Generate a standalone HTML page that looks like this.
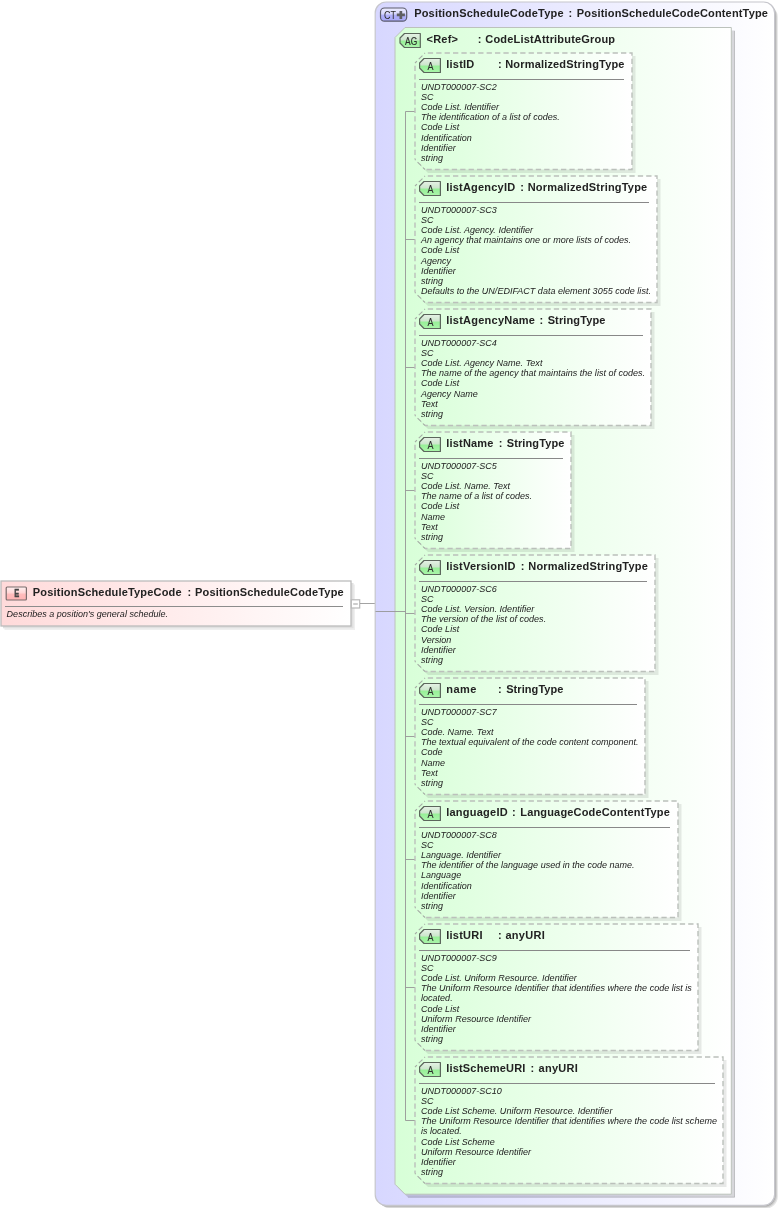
<!DOCTYPE html>
<html><head><meta charset="utf-8"><title>PositionScheduleTypeCode</title>
<style>html,body{margin:0;padding:0;background:#fff}body{width:779px;height:1208px;overflow:hidden}svg{display:block}text{font-family:"Liberation Sans", sans-serif;fill:#222}.b{font-weight:bold;font-size:11px}.i{font-style:italic;font-size:9px;letter-spacing:0.018px}.g{font-size:10px}</style></head><body>
<svg width="779" height="1208" viewBox="0 0 779 1208">
<defs>
<filter id="soft" x="0" y="0" width="100%" height="100%" filterUnits="userSpaceOnUse"><feGaussianBlur stdDeviation="0.35"/></filter>
<linearGradient id="gct" x1="0" y1="0" x2="1" y2="0"><stop offset="0" stop-color="#d7d7ff"/><stop offset="1" stop-color="#ffffff"/></linearGradient>
<linearGradient id="gag" x1="0" y1="0" x2="1" y2="0"><stop offset="0" stop-color="#d7ffd7"/><stop offset="1" stop-color="#ffffff"/></linearGradient>
<linearGradient id="gat" x1="0" y1="0" x2="1" y2="0"><stop offset="0" stop-color="#d9ffd9"/><stop offset="1" stop-color="#ffffff"/></linearGradient>
<linearGradient id="gel" x1="0" y1="0" x2="1" y2="0"><stop offset="0" stop-color="#ffdada"/><stop offset="1" stop-color="#ffffff"/></linearGradient>
<linearGradient id="gba" x1="0" y1="0" x2="0" y2="1"><stop offset="0" stop-color="#e6f2e6"/><stop offset="0.45" stop-color="#cde6cd"/><stop offset="0.55" stop-color="#98f098"/><stop offset="1" stop-color="#aaf5aa"/></linearGradient>
<linearGradient id="gbc" x1="0" y1="0" x2="0" y2="1"><stop offset="0" stop-color="#ececff"/><stop offset="0.45" stop-color="#d6d6fc"/><stop offset="0.55" stop-color="#b0b0fa"/><stop offset="1" stop-color="#a8a8f8"/></linearGradient>
<linearGradient id="gbe" x1="0" y1="0" x2="0" y2="1"><stop offset="0" stop-color="#fff0f0"/><stop offset="0.45" stop-color="#ffd6d6"/><stop offset="0.55" stop-color="#ffbcbc"/><stop offset="1" stop-color="#ffb4b4"/></linearGradient>
</defs>
<rect x="4.5" y="584.5" width="350.5" height="45.5" fill="#efefef"/>
<rect x="3" y="583" width="350.5" height="45.3" fill="#e0e0e0"/>
<rect x="1" y="581" width="350" height="45" fill="url(#gel)" stroke="#bcbcbc" stroke-width="1.3"/>
<rect x="6.2" y="587" width="20.2" height="13" rx="1" ry="1" fill="url(#gbe)" stroke="#7a6c6c" stroke-width="1.2"/>
<line x1="5" y1="606.5" x2="343" y2="606.5" stroke="#8c8c8c" stroke-width="1"/>
<rect x="351.3" y="599.8" width="8.4" height="8.2" fill="#fff" stroke="#b8b8b8" stroke-width="1.2"/>
<line x1="353.2" y1="604" x2="357.8" y2="604" stroke="#bdbdbd" stroke-width="1.5"/>
<line x1="360" y1="603.5" x2="375" y2="603.5" stroke="#999" stroke-width="0.9"/>
<rect x="378.4" y="5.2" width="399.4" height="1203.4" rx="12" ry="12" fill="#e4e4e4"/>
<rect x="377.4" y="4.2" width="399.4" height="1203.4" rx="12" ry="12" fill="#cacaca"/>
<rect x="376.3" y="3.1" width="399.4" height="1203.4" rx="11.5" ry="11.5" fill="#adadad"/>
<rect x="375.2" y="2" width="399.4" height="1203.4" rx="11" ry="11" fill="url(#gct)" stroke="#c6c6cc" stroke-width="1.2"/>
<rect x="380.5" y="8" width="26.2" height="13.2" rx="4" ry="4" fill="url(#gbc)" stroke="#5c5c6c" stroke-width="1.2"/>
<path d="M396.8 13.6h2.7v-2.7h2.7v2.7h2.7v2.7h-2.7v2.7h-2.7v-2.7h-2.7z" fill="#5e5e62"/>
<path d="M408 30.5 L734.9 30.5 L734.9 1197.6 L408 1197.6 L398 1187.6 L398 40.5 Z" fill="#000" fill-opacity="0.14"/>
<path d="M734.5 31 V1197.2 H408" fill="none" stroke="#000" stroke-opacity="0.14" stroke-width="0.9"/>
<path d="M405 27.5 L731.3 27.5 L731.3 1194.2 L405 1194.2 L395 1184.2 L395 37.5 Z" fill="url(#gag)" stroke="#bcc2bc" stroke-width="1"/>
<path d="M404.5 33.5 H420.3 V47.5 H404.5 L400 43 V38 Z" fill="url(#gba)" stroke="#5c665c" stroke-width="1.2" stroke-linejoin="round"/>
<path d="M375.5 611.5 H405.5 M405.5 111.5 V1120.5" stroke="#969696" stroke-width="0.9" fill="none"/>
<line x1="405.5" y1="111.5" x2="415" y2="111.5" stroke="#969696" stroke-width="0.9"/>
<path d="M428 56 L635.5 56 L635.5 173 L428 173 L418 163 L418 66 Z" fill="#000" fill-opacity="0.085"/>
<path d="M425 53 L632 53 L632 169.5 L425 169.5 L415 159.5 L415 63 Z" fill="url(#gat)"/>
<path d="M425 53 H632 V169.5 H425 M415 63 V159.5" fill="none" stroke="#bbc0bb" stroke-width="1.4" stroke-dasharray="5.3 3.1" stroke-dashoffset="5.6"/>
<path d="M425 53 L415 63 M415 159.5 L425 169.5" fill="none" stroke="#a6ada6" stroke-width="1.1" stroke-dasharray="5.2 2.6" stroke-dashoffset="4.2"/>
<path d="M424 58.5 H440.4 V72.5 H424 L419.6 68 V63 Z" fill="url(#gba)" stroke="#5c665c" stroke-width="1.2" stroke-linejoin="round"/>
<line x1="419" y1="79.5" x2="624" y2="79.5" stroke="#888" stroke-width="1"/>
<line x1="405.5" y1="239.5" x2="415" y2="239.5" stroke="#969696" stroke-width="0.9"/>
<path d="M428 179 L660.5 179 L660.5 306 L428 306 L418 296 L418 189 Z" fill="#000" fill-opacity="0.085"/>
<path d="M425 176 L657 176 L657 302.5 L425 302.5 L415 292.5 L415 186 Z" fill="url(#gat)"/>
<path d="M425 176 H657 V302.5 H425 M415 186 V292.5" fill="none" stroke="#bbc0bb" stroke-width="1.4" stroke-dasharray="5.3 3.1" stroke-dashoffset="5.6"/>
<path d="M425 176 L415 186 M415 292.5 L425 302.5" fill="none" stroke="#a6ada6" stroke-width="1.1" stroke-dasharray="5.2 2.6" stroke-dashoffset="4.2"/>
<path d="M424 181.5 H440.4 V195.5 H424 L419.6 191 V186 Z" fill="url(#gba)" stroke="#5c665c" stroke-width="1.2" stroke-linejoin="round"/>
<line x1="419" y1="202.5" x2="649" y2="202.5" stroke="#888" stroke-width="1"/>
<line x1="405.5" y1="367.5" x2="415" y2="367.5" stroke="#969696" stroke-width="0.9"/>
<path d="M428 312 L654.5 312 L654.5 429 L428 429 L418 419 L418 322 Z" fill="#000" fill-opacity="0.085"/>
<path d="M425 309 L651 309 L651 425.5 L425 425.5 L415 415.5 L415 319 Z" fill="url(#gat)"/>
<path d="M425 309 H651 V425.5 H425 M415 319 V415.5" fill="none" stroke="#bbc0bb" stroke-width="1.4" stroke-dasharray="5.3 3.1" stroke-dashoffset="5.6"/>
<path d="M425 309 L415 319 M415 415.5 L425 425.5" fill="none" stroke="#a6ada6" stroke-width="1.1" stroke-dasharray="5.2 2.6" stroke-dashoffset="4.2"/>
<path d="M424 314.5 H440.4 V328.5 H424 L419.6 324 V319 Z" fill="url(#gba)" stroke="#5c665c" stroke-width="1.2" stroke-linejoin="round"/>
<line x1="419" y1="335.5" x2="643" y2="335.5" stroke="#888" stroke-width="1"/>
<line x1="405.5" y1="490.5" x2="415" y2="490.5" stroke="#969696" stroke-width="0.9"/>
<path d="M428 435 L574.5 435 L574.5 552 L428 552 L418 542 L418 445 Z" fill="#000" fill-opacity="0.085"/>
<path d="M425 432 L571 432 L571 548.5 L425 548.5 L415 538.5 L415 442 Z" fill="url(#gat)"/>
<path d="M425 432 H571 V548.5 H425 M415 442 V538.5" fill="none" stroke="#bbc0bb" stroke-width="1.4" stroke-dasharray="5.3 3.1" stroke-dashoffset="5.6"/>
<path d="M425 432 L415 442 M415 538.5 L425 548.5" fill="none" stroke="#a6ada6" stroke-width="1.1" stroke-dasharray="5.2 2.6" stroke-dashoffset="4.2"/>
<path d="M424 437.5 H440.4 V451.5 H424 L419.6 447 V442 Z" fill="url(#gba)" stroke="#5c665c" stroke-width="1.2" stroke-linejoin="round"/>
<line x1="419" y1="458.5" x2="563" y2="458.5" stroke="#888" stroke-width="1"/>
<line x1="405.5" y1="613.5" x2="415" y2="613.5" stroke="#969696" stroke-width="0.9"/>
<path d="M428 558 L658.5 558 L658.5 675 L428 675 L418 665 L418 568 Z" fill="#000" fill-opacity="0.085"/>
<path d="M425 555 L655 555 L655 671.5 L425 671.5 L415 661.5 L415 565 Z" fill="url(#gat)"/>
<path d="M425 555 H655 V671.5 H425 M415 565 V661.5" fill="none" stroke="#bbc0bb" stroke-width="1.4" stroke-dasharray="5.3 3.1" stroke-dashoffset="5.6"/>
<path d="M425 555 L415 565 M415 661.5 L425 671.5" fill="none" stroke="#a6ada6" stroke-width="1.1" stroke-dasharray="5.2 2.6" stroke-dashoffset="4.2"/>
<path d="M424 560.5 H440.4 V574.5 H424 L419.6 570 V565 Z" fill="url(#gba)" stroke="#5c665c" stroke-width="1.2" stroke-linejoin="round"/>
<line x1="419" y1="581.5" x2="647" y2="581.5" stroke="#888" stroke-width="1"/>
<line x1="405.5" y1="736.5" x2="415" y2="736.5" stroke="#969696" stroke-width="0.9"/>
<path d="M428 681 L648.5 681 L648.5 798 L428 798 L418 788 L418 691 Z" fill="#000" fill-opacity="0.085"/>
<path d="M425 678 L645 678 L645 794.5 L425 794.5 L415 784.5 L415 688 Z" fill="url(#gat)"/>
<path d="M425 678 H645 V794.5 H425 M415 688 V784.5" fill="none" stroke="#bbc0bb" stroke-width="1.4" stroke-dasharray="5.3 3.1" stroke-dashoffset="5.6"/>
<path d="M425 678 L415 688 M415 784.5 L425 794.5" fill="none" stroke="#a6ada6" stroke-width="1.1" stroke-dasharray="5.2 2.6" stroke-dashoffset="4.2"/>
<path d="M424 683.5 H440.4 V697.5 H424 L419.6 693 V688 Z" fill="url(#gba)" stroke="#5c665c" stroke-width="1.2" stroke-linejoin="round"/>
<line x1="419" y1="704.5" x2="637" y2="704.5" stroke="#888" stroke-width="1"/>
<line x1="405.5" y1="859.5" x2="415" y2="859.5" stroke="#969696" stroke-width="0.9"/>
<path d="M428 804 L681.5 804 L681.5 921 L428 921 L418 911 L418 814 Z" fill="#000" fill-opacity="0.085"/>
<path d="M425 801 L678 801 L678 917.5 L425 917.5 L415 907.5 L415 811 Z" fill="url(#gat)"/>
<path d="M425 801 H678 V917.5 H425 M415 811 V907.5" fill="none" stroke="#bbc0bb" stroke-width="1.4" stroke-dasharray="5.3 3.1" stroke-dashoffset="5.6"/>
<path d="M425 801 L415 811 M415 907.5 L425 917.5" fill="none" stroke="#a6ada6" stroke-width="1.1" stroke-dasharray="5.2 2.6" stroke-dashoffset="4.2"/>
<path d="M424 806.5 H440.4 V820.5 H424 L419.6 816 V811 Z" fill="url(#gba)" stroke="#5c665c" stroke-width="1.2" stroke-linejoin="round"/>
<line x1="419" y1="827.5" x2="670" y2="827.5" stroke="#888" stroke-width="1"/>
<line x1="405.5" y1="987.5" x2="415" y2="987.5" stroke="#969696" stroke-width="0.9"/>
<path d="M428 927 L701.5 927 L701.5 1054 L428 1054 L418 1044 L418 937 Z" fill="#000" fill-opacity="0.085"/>
<path d="M425 924 L698 924 L698 1050.5 L425 1050.5 L415 1040.5 L415 934 Z" fill="url(#gat)"/>
<path d="M425 924 H698 V1050.5 H425 M415 934 V1040.5" fill="none" stroke="#bbc0bb" stroke-width="1.4" stroke-dasharray="5.3 3.1" stroke-dashoffset="5.6"/>
<path d="M425 924 L415 934 M415 1040.5 L425 1050.5" fill="none" stroke="#a6ada6" stroke-width="1.1" stroke-dasharray="5.2 2.6" stroke-dashoffset="4.2"/>
<path d="M424 929.5 H440.4 V943.5 H424 L419.6 939 V934 Z" fill="url(#gba)" stroke="#5c665c" stroke-width="1.2" stroke-linejoin="round"/>
<line x1="419" y1="950.5" x2="690" y2="950.5" stroke="#888" stroke-width="1"/>
<line x1="405.5" y1="1120.5" x2="415" y2="1120.5" stroke="#969696" stroke-width="0.9"/>
<path d="M428 1060 L726.5 1060 L726.5 1187 L428 1187 L418 1177 L418 1070 Z" fill="#000" fill-opacity="0.085"/>
<path d="M425 1057 L723 1057 L723 1183.5 L425 1183.5 L415 1173.5 L415 1067 Z" fill="url(#gat)"/>
<path d="M425 1057 H723 V1183.5 H425 M415 1067 V1173.5" fill="none" stroke="#bbc0bb" stroke-width="1.4" stroke-dasharray="5.3 3.1" stroke-dashoffset="5.6"/>
<path d="M425 1057 L415 1067 M415 1173.5 L425 1183.5" fill="none" stroke="#a6ada6" stroke-width="1.1" stroke-dasharray="5.2 2.6" stroke-dashoffset="4.2"/>
<path d="M424 1062.5 H440.4 V1076.5 H424 L419.6 1072 V1067 Z" fill="url(#gba)" stroke="#5c665c" stroke-width="1.2" stroke-linejoin="round"/>
<line x1="419" y1="1083.5" x2="715" y2="1083.5" stroke="#888" stroke-width="1"/>
<g filter="url(#soft)">
<text x="16.7" y="597.3" text-anchor="middle" textLength="5" lengthAdjust="spacingAndGlyphs" style="font-weight:bold;font-size:11px;fill:#444;stroke:#444;stroke-width:.4px">E</text>
<text x="32.86" y="595.9" class="b" style="letter-spacing:0.176px">PositionScheduleTypeCode</text>
<text x="187.47" y="595.9" class="b">:</text>
<text x="195.06" y="595.9" class="b" style="letter-spacing:0.172px">PositionScheduleCodeType</text>
<text x="6.6" y="617" class="i">Describes a position's general schedule.</text>
<text x="384" y="18.5" textLength="12" lengthAdjust="spacingAndGlyphs" style="font-size:11px;fill:#2a2a2a">CT</text>
<text x="414.16" y="16.9" class="b" style="letter-spacing:0.206px">PositionScheduleCodeType</text>
<text x="568.47" y="16.9" class="b">:</text>
<text x="576.86" y="16.9" class="b" style="letter-spacing:0.163px">PositionScheduleCodeContentType</text>
<text x="405" y="45.2" textLength="12.2" lengthAdjust="spacingAndGlyphs" style="font-size:11px;fill:#2a2a2a;stroke:#2a2a2a;stroke-width:.12px">AG</text>
<text x="426.54" y="42.5" class="b" style="letter-spacing:0.209px">&lt;Ref&gt;</text>
<text x="477.87" y="42.5" class="b">:</text>
<text x="485.25" y="42.5" class="b" style="letter-spacing:0.187px">CodeListAttributeGroup</text>
<text x="430.4" y="70.2" text-anchor="middle" textLength="6" lengthAdjust="spacingAndGlyphs" style="font-size:11px;fill:#303030;stroke:#303030;stroke-width:.12px">A</text>
<text x="446.23" y="67.6" class="b" style="letter-spacing:0.227px">listID</text>
<text x="497.97" y="67.6" class="b">:</text>
<text x="505.26" y="67.6" class="b" style="letter-spacing:0.172px">NormalizedStringType</text>
<text x="421" y="89.9" class="i">UNDT000007-SC2</text>
<text x="421" y="100.02" class="i">SC</text>
<text x="421" y="110.14" class="i">Code List. Identifier</text>
<text x="421" y="120.26" class="i">The identification of a list of codes.</text>
<text x="421" y="130.38" class="i">Code List</text>
<text x="421" y="140.5" class="i">Identification</text>
<text x="421" y="150.62" class="i">Identifier</text>
<text x="421" y="160.74" class="i">string</text>
<text x="430.4" y="193.2" text-anchor="middle" textLength="6" lengthAdjust="spacingAndGlyphs" style="font-size:11px;fill:#303030;stroke:#303030;stroke-width:.12px">A</text>
<text x="446.23" y="190.6" class="b" style="letter-spacing:0.209px">listAgencyID</text>
<text x="520.17" y="190.6" class="b">:</text>
<text x="527.66" y="190.6" class="b" style="letter-spacing:0.188px">NormalizedStringType</text>
<text x="421" y="212.9" class="i">UNDT000007-SC3</text>
<text x="421" y="223.02" class="i">SC</text>
<text x="421" y="233.14" class="i">Code List. Agency. Identifier</text>
<text x="421" y="243.26" class="i">An agency that maintains one or more lists of codes.</text>
<text x="421" y="253.38" class="i">Code List</text>
<text x="421" y="263.5" class="i">Agency</text>
<text x="421" y="273.62" class="i">Identifier</text>
<text x="421" y="283.74" class="i">string</text>
<text x="421" y="293.86" class="i">Defaults to the UN/EDIFACT data element 3055 code list.</text>
<text x="430.4" y="326.2" text-anchor="middle" textLength="6" lengthAdjust="spacingAndGlyphs" style="font-size:11px;fill:#303030;stroke:#303030;stroke-width:.12px">A</text>
<text x="446.23" y="323.6" class="b" style="letter-spacing:0.243px">listAgencyName</text>
<text x="539.57" y="323.6" class="b">:</text>
<text x="547.68" y="323.6" class="b" style="letter-spacing:0.116px">StringType</text>
<text x="421" y="345.9" class="i">UNDT000007-SC4</text>
<text x="421" y="356.02" class="i">SC</text>
<text x="421" y="366.14" class="i">Code List. Agency Name. Text</text>
<text x="421" y="376.26" class="i">The name of the agency that maintains the list of codes.</text>
<text x="421" y="386.38" class="i">Code List</text>
<text x="421" y="396.5" class="i">Agency Name</text>
<text x="421" y="406.62" class="i">Text</text>
<text x="421" y="416.74" class="i">string</text>
<text x="430.4" y="449.2" text-anchor="middle" textLength="6" lengthAdjust="spacingAndGlyphs" style="font-size:11px;fill:#303030;stroke:#303030;stroke-width:.12px">A</text>
<text x="446.23" y="446.6" class="b" style="letter-spacing:0.199px">listName</text>
<text x="498.67" y="446.6" class="b">:</text>
<text x="506.68" y="446.6" class="b" style="letter-spacing:0.127px">StringType</text>
<text x="421" y="468.9" class="i">UNDT000007-SC5</text>
<text x="421" y="479.02" class="i">SC</text>
<text x="421" y="489.14" class="i">Code List. Name. Text</text>
<text x="421" y="499.26" class="i">The name of a list of codes.</text>
<text x="421" y="509.38" class="i">Code List</text>
<text x="421" y="519.5" class="i">Name</text>
<text x="421" y="529.62" class="i">Text</text>
<text x="421" y="539.74" class="i">string</text>
<text x="430.4" y="572.2" text-anchor="middle" textLength="6" lengthAdjust="spacingAndGlyphs" style="font-size:11px;fill:#303030;stroke:#303030;stroke-width:.12px">A</text>
<text x="446.23" y="569.6" class="b" style="letter-spacing:0.207px">listVersionID</text>
<text x="520.67" y="569.6" class="b">:</text>
<text x="528.26" y="569.6" class="b" style="letter-spacing:0.188px">NormalizedStringType</text>
<text x="421" y="591.9" class="i">UNDT000007-SC6</text>
<text x="421" y="602.02" class="i">SC</text>
<text x="421" y="612.14" class="i">Code List. Version. Identifier</text>
<text x="421" y="622.26" class="i">The version of the list of codes.</text>
<text x="421" y="632.38" class="i">Code List</text>
<text x="421" y="642.5" class="i">Version</text>
<text x="421" y="652.62" class="i">Identifier</text>
<text x="421" y="662.74" class="i">string</text>
<text x="430.4" y="695.2" text-anchor="middle" textLength="6" lengthAdjust="spacingAndGlyphs" style="font-size:11px;fill:#303030;stroke:#303030;stroke-width:.12px">A</text>
<text x="446.27" y="692.6" class="b" style="letter-spacing:0.422px">name</text>
<text x="497.97" y="692.6" class="b">:</text>
<text x="506.18" y="692.6" class="b" style="letter-spacing:0.072px">StringType</text>
<text x="421" y="714.9" class="i">UNDT000007-SC7</text>
<text x="421" y="725.02" class="i">SC</text>
<text x="421" y="735.14" class="i">Code. Name. Text</text>
<text x="421" y="745.26" class="i">The textual equivalent of the code content component.</text>
<text x="421" y="755.38" class="i">Code</text>
<text x="421" y="765.5" class="i">Name</text>
<text x="421" y="775.62" class="i">Text</text>
<text x="421" y="785.74" class="i">string</text>
<text x="430.4" y="818.2" text-anchor="middle" textLength="6" lengthAdjust="spacingAndGlyphs" style="font-size:11px;fill:#303030;stroke:#303030;stroke-width:.12px">A</text>
<text x="446.23" y="815.6" class="b" style="letter-spacing:0.238px">languageID</text>
<text x="512.07" y="815.6" class="b">:</text>
<text x="520.26" y="815.6" class="b" style="letter-spacing:0.170px">LanguageCodeContentType</text>
<text x="421" y="837.9" class="i">UNDT000007-SC8</text>
<text x="421" y="848.02" class="i">SC</text>
<text x="421" y="858.14" class="i">Language. Identifier</text>
<text x="421" y="868.26" class="i">The identifier of the language used in the code name.</text>
<text x="421" y="878.38" class="i">Language</text>
<text x="421" y="888.5" class="i">Identification</text>
<text x="421" y="898.62" class="i">Identifier</text>
<text x="421" y="908.74" class="i">string</text>
<text x="430.4" y="941.2" text-anchor="middle" textLength="6" lengthAdjust="spacingAndGlyphs" style="font-size:11px;fill:#303030;stroke:#303030;stroke-width:.12px">A</text>
<text x="446.23" y="938.6" class="b" style="letter-spacing:0.244px">listURI</text>
<text x="497.97" y="938.6" class="b">:</text>
<text x="505.48" y="938.6" class="b" style="letter-spacing:0.272px">anyURI</text>
<text x="421" y="960.9" class="i">UNDT000007-SC9</text>
<text x="421" y="971.02" class="i">SC</text>
<text x="421" y="981.14" class="i">Code List. Uniform Resource. Identifier</text>
<text x="421" y="991.26" class="i">The Uniform Resource Identifier that identifies where the code list is</text>
<text x="421" y="1001.38" class="i">located.</text>
<text x="421" y="1011.5" class="i">Code List</text>
<text x="421" y="1021.62" class="i">Uniform Resource Identifier</text>
<text x="421" y="1031.74" class="i">Identifier</text>
<text x="421" y="1041.86" class="i">string</text>
<text x="430.4" y="1074.2" text-anchor="middle" textLength="6" lengthAdjust="spacingAndGlyphs" style="font-size:11px;fill:#303030;stroke:#303030;stroke-width:.12px">A</text>
<text x="446.23" y="1071.6" class="b" style="letter-spacing:0.181px">listSchemeURI</text>
<text x="530.57" y="1071.6" class="b">:</text>
<text x="538.58" y="1071.6" class="b" style="letter-spacing:0.252px">anyURI</text>
<text x="421" y="1093.9" class="i">UNDT000007-SC10</text>
<text x="421" y="1104.02" class="i">SC</text>
<text x="421" y="1114.14" class="i">Code List Scheme. Uniform Resource. Identifier</text>
<text x="421" y="1124.26" class="i">The Uniform Resource Identifier that identifies where the code list scheme</text>
<text x="421" y="1134.38" class="i">is located.</text>
<text x="421" y="1144.5" class="i">Code List Scheme</text>
<text x="421" y="1154.62" class="i">Uniform Resource Identifier</text>
<text x="421" y="1164.74" class="i">Identifier</text>
<text x="421" y="1174.86" class="i">string</text>
</g>
</svg></body></html>
